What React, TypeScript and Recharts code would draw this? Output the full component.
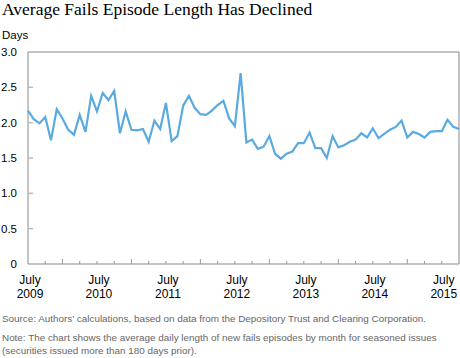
import React from 'react';
import { LineChart, Line, XAxis, YAxis, ReferenceArea } from 'recharts';

// Monthly values, July 2009 (index 0) through October 2015 (index 75)
const failLengthDays: number[] = [
  2.17, 2.05, 1.99, 2.08, 1.75, 2.19, 2.06, 1.90, 1.83, 2.11, 1.87, 2.38,
  2.16, 2.42, 2.32, 2.45, 1.85, 2.16, 1.90, 1.89, 1.91, 1.73, 2.03, 1.91,
  2.28, 1.74, 1.81, 2.24, 2.38, 2.21, 2.12, 2.11, 2.17, 2.25, 2.31, 2.06,
  1.95, 2.70, 1.72, 1.76, 1.63, 1.66, 1.81, 1.56, 1.49, 1.56, 1.59, 1.71,
  1.71, 1.86, 1.64, 1.64, 1.50, 1.81, 1.65, 1.68, 1.73, 1.76, 1.85, 1.79,
  1.92, 1.78, 1.84, 1.90, 1.94, 2.03, 1.79, 1.87, 1.84, 1.79, 1.87, 1.88,
  1.88, 2.04, 1.94, 1.91,
];

const quarterTicks: number[] = [
  0, 3, 6, 9, 12, 15, 18, 21, 24, 27, 30, 33, 36, 39, 42, 45, 48, 51, 54, 57,
  60, 63, 66, 69, 72, 75,
];
const julyYears: string[] = ['2009', '2010', '2011', '2012', '2013', '2014', '2015'];
const yTicks: number[] = [0, 0.5, 1, 1.5, 2, 2.5, 3];
const yTickLabels: string[] = ['0', '0.5', '1.0', '1.5', '2.0', '2.5', '3.0'];

const data = failLengthDays.map((v, i) => ({ m: i, v }));

const FONT = 'Arial, "Liberation Sans", Helvetica, sans-serif';
const LINE_COLOR = '#5aaae0';

const XTick = (props: any) => {
  const { x, y, payload } = props;
  const i = payload.value as number;
  const tall = i % 12 === 6;
  const isJuly = i % 12 === 0;
  const showMark = i !== 0 && i !== 75;
  return (
    <g>
      {showMark && (
        <line x1={x} x2={x} y1={y} y2={y - (tall ? 5 : 3)} stroke="#999" strokeWidth={1} />
      )}
      {isJuly && (
        <text textAnchor="middle" fontFamily={FONT} fontSize={12} fill="#000">
          <tspan x={x + 2} y={y + 19.5}>July</tspan>
          <tspan x={x + 2} y={y + 33.5}>{julyYears[i / 12]}</tspan>
        </text>
      )}
    </g>
  );
};

const YTickLeft = (props: any) => {
  const { x, y, payload, index } = props;
  const v = payload.value as number;
  const showMark = v > 0 && v < 3;
  return (
    <g>
      {showMark && <line x1={x} x2={x + 5} y1={y} y2={y} stroke="#bbb" strokeWidth={1.5} />}
      <text x={x - 11} y={y + 4} textAnchor="end" fontFamily={FONT} fontSize={11.5} fill="#000">
        {yTickLabels[index]}
      </text>
    </g>
  );
};

const YTickRight = (props: any) => {
  const { x, y, payload } = props;
  const v = payload.value as number;
  if (!(v > 0 && v < 3)) return <g />;
  return <line x1={x} x2={x - 5} y1={y} y2={y} stroke="#bbb" strokeWidth={1.5} />;
};

export default function App() {
  return (
    <div style={{ position: 'absolute', left: 0, top: 0, width: 460, height: 358, background: '#fff' }}>
      <svg
        width={460}
        height={358}
        style={{ position: 'absolute', left: 0, top: 0 }}
      >
        <text x={2} y={15} fontFamily='Georgia, "Liberation Serif", serif' fontSize={17.5} fill="#000">
          Average Fails Episode Length Has Declined
        </text>
        <text x={2} y={39} fontFamily={FONT} fontSize={11.5} fill="#000">
          Days
        </text>
        <text x={2} y={322} fontFamily={FONT} fontSize={9.9} fill="#666">
          Source: Authors’ calculations, based on data from the Depository Trust and Clearing Corporation.
        </text>
        <text x={2} y={341} fontFamily={FONT} fontSize={9.9} fill="#666">
          Note: The chart shows the average daily length of new fails episodes by month for seasoned issues
        </text>
        <text x={2} y={354} fontFamily={FONT} fontSize={9.9} fill="#666">
          (securities issued more than 180 days prior).
        </text>
      </svg>
      <div style={{ position: 'absolute', left: 0, top: 0 }}>
        <LineChart
          width={460}
          height={358}
          data={data}
          margin={{ top: 52, right: 0, bottom: 93, left: 0 }}
        >
          <XAxis
            dataKey="m"
            type="number"
            domain={[0, 75]}
            ticks={quarterTicks}
            interval={0}
            height={1}
            tickSize={0}
            tickMargin={0}
            tickLine={false}
            axisLine={false}
            tick={<XTick />}
          />
          <YAxis
            yAxisId="l"
            orientation="left"
            type="number"
            domain={[0, 3]}
            ticks={yTicks}
            interval={0}
            width={28}
            tickSize={0}
            tickMargin={0}
            tickLine={false}
            axisLine={false}
            tick={<YTickLeft />}
          />
          <YAxis
            yAxisId="r"
            orientation="right"
            type="number"
            domain={[0, 3]}
            ticks={yTicks}
            interval={0}
            width={1}
            tickSize={0}
            tickMargin={0}
            tickLine={false}
            axisLine={false}
            tick={<YTickRight />}
          />
          <ReferenceArea
            yAxisId="l"
            x1={0}
            x2={75}
            y1={0}
            y2={3}
            fill="none"
            stroke="#888"
            strokeWidth={1}
            ifOverflow="visible"
          />
          <Line
            yAxisId="l"
            type="linear"
            dataKey="v"
            stroke={LINE_COLOR}
            strokeWidth={2.2}
            dot={false}
            isAnimationActive={false}
          />
        </LineChart>
      </div>
    </div>
  );
}
